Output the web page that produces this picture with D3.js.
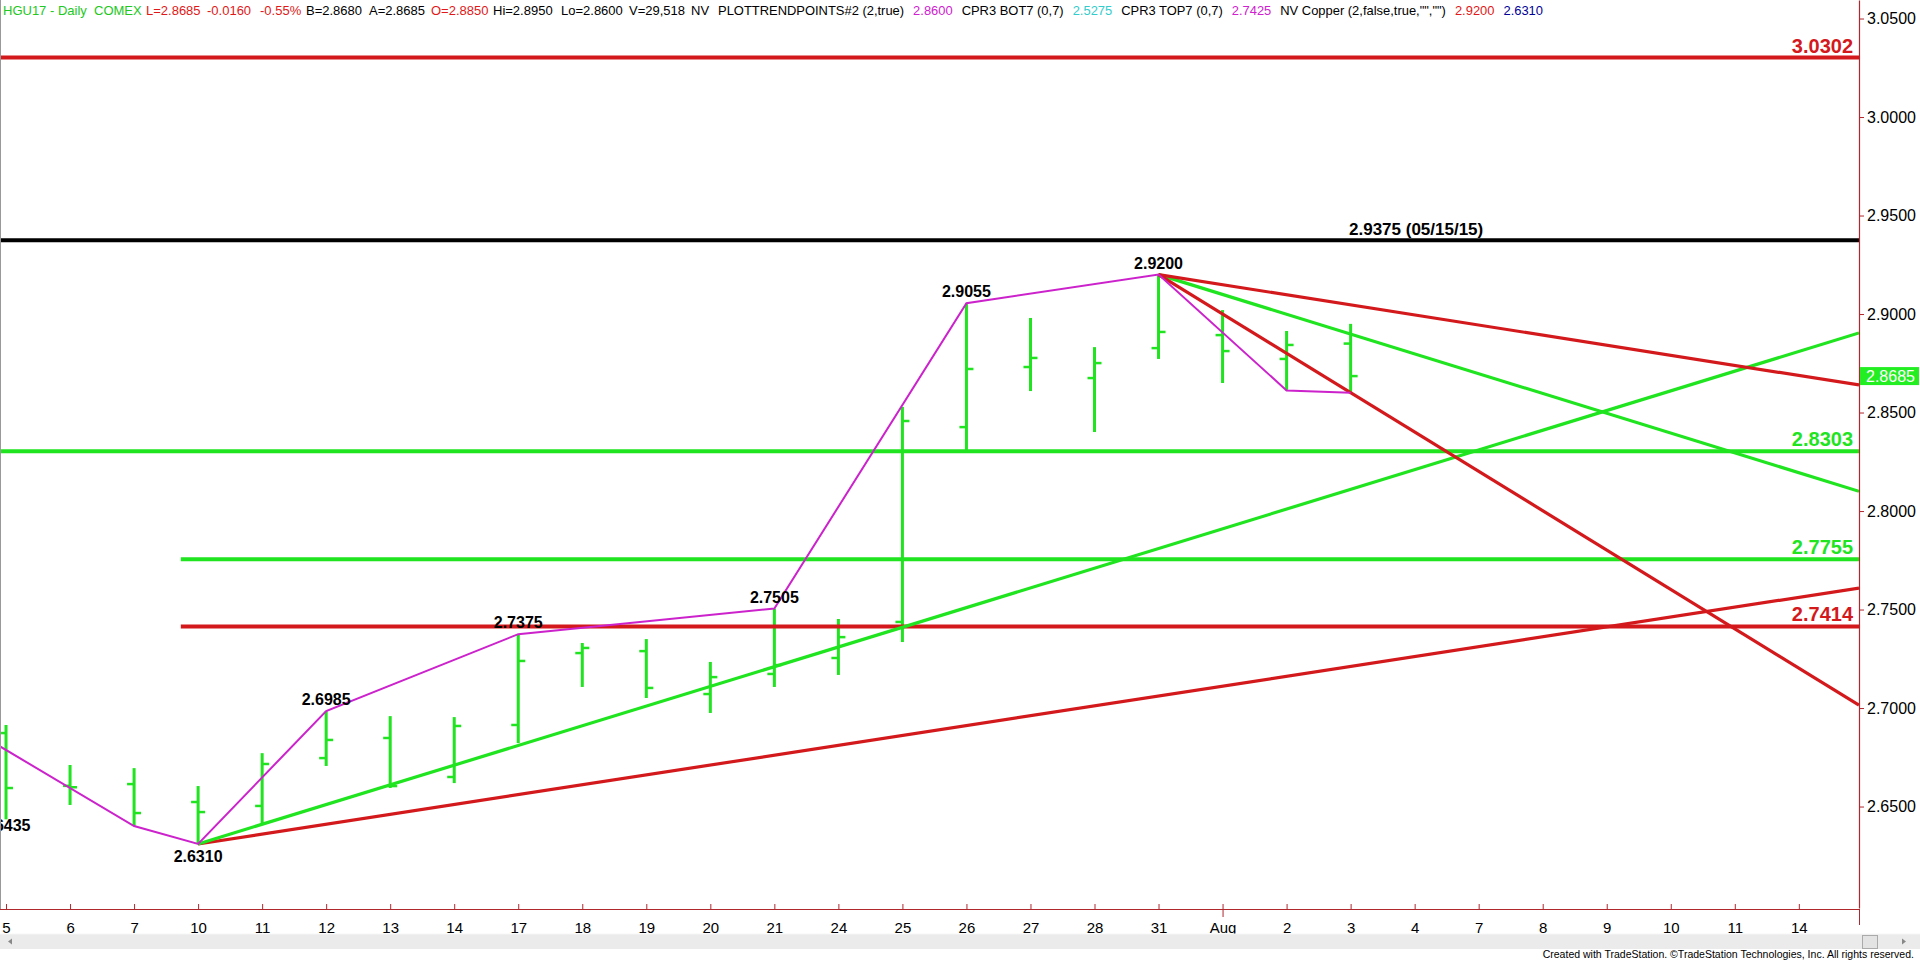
<!DOCTYPE html>
<html><head><meta charset="utf-8">
<script src="https://cdn.jsdelivr.net/npm/d3@7"></script>
<style>html,body{margin:0;padding:0;background:#fff;overflow:hidden}</style>
</head><body>
<svg id="c" width="1920" height="964" xmlns="http://www.w3.org/2000/svg"></svg>
<script>
// ---------------- DATA ----------------
const dates  = ["5","6","7","10","11","12","13","14","17","18","19","20","21","24","25","26","27","28","31","Aug","2","3","4","7","8","9","10","11","14"];
const opens  = [2.6873,2.6605,2.6614,2.6523,2.6503,2.6746,2.6848,2.6650,2.6914,2.7279,2.7289,2.7071,2.7173,2.7254,2.7437,2.8426,2.8731,2.8675,2.8827,2.8893,2.8772,2.8850];
const highs  = [2.6914,2.6711,2.6695,2.6604,2.6771,2.6985,2.6959,2.6954,2.7375,2.7330,2.7350,2.7234,2.7505,2.7452,2.8528,2.9055,2.8980,2.8832,2.9200,2.9020,2.8914,2.8950];
const lows   = [2.6435,2.6508,2.6401,2.6310,2.6406,2.6706,2.6594,2.6619,2.6822,2.7107,2.7051,2.6975,2.7107,2.7168,2.7335,2.8303,2.8609,2.8401,2.8772,2.8650,2.8612,2.8600];
const closes = [2.6594,2.6598,2.6467,2.6472,2.6716,2.6838,2.6604,2.6909,2.7239,2.7305,2.7102,2.7157,2.7218,2.7360,2.8457,2.8721,2.8777,2.8751,2.8909,2.8812,2.8843,2.8685];

const pivotIdx = [-1,2,3,5,8,12,15,18,20,21];
const pivotVal = [2.6980,2.6401,2.6310,2.6985,2.7375,2.7505,2.9055,2.9200,2.8612,2.8600];

const labelIdx  = [0,3,5,8,12,15,18];
const labelVal  = [2.6435,2.6310,2.6985,2.7375,2.7505,2.9055,2.9200];
const labelSide = ["low","below","above","above","above","above","above"];

const levelVal   = [3.0302,2.9375,2.8303,2.7755,2.7414];
const levelKind  = ["red","black","green","green","red"];
const levelFrom  = [null,null,null,2.73,2.73];
const levelText  = ["3.0302","2.9375 (05/15/15)","2.8303","2.7755","2.7414"];

const trendStartIdx = [3,3,18,18,18];
const trendStartVal = [2.6310,2.6310,2.9200,2.9200,2.9200];
const trendEndVal   = [2.7609,2.8904,2.8100,2.8640,2.7015];
const trendKind     = ["red","green","green","red","red"];

const yTicks = [2.65,2.70,2.75,2.80,2.85,2.90,2.95,3.00,3.05];
const lastPrice = 2.8685;

const headerText = ["HGU17 - Daily  COMEX","L=2.8685","-0.0160","-0.55%","B=2.8680","A=2.8685","O=2.8850","Hi=2.8950","Lo=2.8600","V=29,518","NV","PLOTTRENDPOINTS#2 (2,true)","2.8600","CPR3 BOT7 (0,7)","2.5275","CPR3 TOP7 (0,7)","2.7425","NV Copper (2,false,true,\"\",\"\")","2.9200","2.6310"];
const headerKind = ["green","red","red","red","black","black","red","black","black","black","black","black","magenta","black","cyan","black","magenta","black","red","navy"];
const footerText = "Created with TradeStation. \u00A9TradeStation Technologies, Inc. All rights reserved.";

// ---------------- STYLE / LAYOUT ----------------
const C = {green:"#1fe41f", red:"#d3191c", black:"#000", magenta:"#cc22cc", cyan:"#33cccc", navy:"#000099", axis:"#b0282c"};
const headerColor = {green:"#22c822", red:"#e01818", black:"#000", magenta:"#d020d0", cyan:"#33cccc", navy:"#000099"};
const headerFixedX = [3,146,207,260,306,369,431,493,561,629,691];
const headerEnd = 1543;

function hasFont(name){
  const c=document.createElement('canvas').getContext('2d');
  const s='abcdefghijklmnopqrstuvwxyz0123456789';
  c.font='40px monospace'; const a=c.measureText(s).width;
  c.font='40px "'+name+'", monospace'; const b=c.measureText(s).width;
  return Math.abs(a-b)>0.5;
}
const narrow = hasFont('Liberation Sans Narrow');
const NF = narrow ? '"Liberation Sans Narrow", Arial, sans-serif' : 'Arial, "Liberation Sans", sans-serif';
const headerSize = narrow ? 16 : 13;
const xLabSize = narrow ? 18 : 15;

const W=1920, H=964, plotR=1859, plotB=909;
const svg = d3.select("#c");
svg.append("rect").attr("width",W).attr("height",H).attr("fill","#fff");

const x = d3.scaleLinear().domain([-0.094, 28.94]).range([0, plotR]);
const y = d3.scaleLinear().domain([2.5985, 3.0594]).range([908, 0]);

svg.append("defs").append("clipPath").attr("id","plot")
  .append("rect").attr("x",1).attr("y",0).attr("width",plotR-1).attr("height",plotB);

const g = svg.append("g").attr("clip-path","url(#plot)");

// ---- bars ----
const bars = g.append("g");
opens.forEach((o,i)=>{
  const cx = x(i);
  bars.append("line").attr("x1",cx).attr("x2",cx).attr("y1",y(highs[i])).attr("y2",y(lows[i]))
    .attr("stroke",C.green).attr("stroke-width",3);
  bars.append("line").attr("x1",cx-7).attr("x2",cx).attr("y1",y(o)).attr("y2",y(o))
    .attr("stroke",C.green).attr("stroke-width",2.5);
  bars.append("line").attr("x1",cx).attr("x2",cx+7).attr("y1",y(closes[i])).attr("y2",y(closes[i]))
    .attr("stroke",C.green).attr("stroke-width",2.5);
});

// ---- levels ----
levelVal.forEach((v,i)=>{
  const x1 = levelFrom[i]==null ? 0 : x(levelFrom[i]);
  g.append("line").attr("x1",x1).attr("x2",plotR).attr("y1",y(v)).attr("y2",y(v))
    .attr("stroke",C[levelKind[i]]).attr("stroke-width",4);
});

// ---- trend lines ----
trendStartIdx.forEach((s,i)=>{
  g.append("line").attr("x1",x(s)).attr("y1",y(trendStartVal[i]))
    .attr("x2",x(x.domain()[1])).attr("y2",y(trendEndVal[i]))
    .attr("stroke",C[trendKind[i]]).attr("stroke-width",3.2);
});

// ---- pivot (magenta) line ----
g.append("path").datum(pivotIdx.map((d,i)=>[d,pivotVal[i]]))
  .attr("d", d3.line().x(d=>x(d[0])).y(d=>y(d[1])))
  .attr("fill","none").attr("stroke",C.magenta).attr("stroke-width",2);

// ---- pivot labels ----
labelIdx.forEach((d,i)=>{
  const side = labelSide[i];
  const yy = side==="above" ? y(labelVal[i])-6 : (side==="below" ? y(labelVal[i])+18 : y(labelVal[i])+12);
  g.append("text").attr("x",x(d)).attr("y",yy).attr("text-anchor","middle")
    .attr("font-family","Arial, 'Liberation Sans', sans-serif").attr("font-weight","bold")
    .attr("font-size",16).attr("fill","#000").text(d3.format(".4f")(labelVal[i]));
});

// ---- level labels ----
levelVal.forEach((v,i)=>{
  if(levelKind[i]==="black"){
    g.append("text").attr("x",1349).attr("y",y(v)-5)
      .attr("font-family","Arial, 'Liberation Sans', sans-serif").attr("font-weight","bold")
      .attr("font-size",17).attr("fill","#000").text(levelText[i]);
  } else {
    g.append("text").attr("x",1853).attr("y",y(v)-5).attr("text-anchor","end")
      .attr("font-family","Arial, 'Liberation Sans', sans-serif").attr("font-weight","bold")
      .attr("font-size",20).attr("fill",C[levelKind[i]]).text(levelText[i]);
  }
});

// ---- header ----
const hNodes = headerText.map((t,i)=> svg.append("text").attr("y",15)
    .attr("font-family",NF).attr("font-size",headerSize)
    .attr("fill",headerColor[headerKind[i]]).style("white-space","pre").text(t));
hNodes.forEach((n,i)=>{ if(i<headerFixedX.length) n.attr("x",headerFixedX[i]); });
{
  const nf = headerFixedX.length - 1;
  const startX = headerFixedX[nf] + hNodes[nf].node().getComputedTextLength();
  const rest = hNodes.slice(nf+1);
  const widths = rest.map(n=>n.node().getComputedTextLength());
  const total = d3.sum(widths);
  const baseGap = 9;
  const avail = headerEnd - startX - baseGap*rest.length;
  let k = 1, gap = baseGap;
  if(total > avail){ k = avail/total; }
  else { gap = (headerEnd - startX - total)/rest.length; }
  let hx = startX;
  rest.forEach((n,j)=>{
    hx += gap;
    n.attr("x",hx);
    if(k<1) n.attr("textLength",widths[j]*k).attr("lengthAdjust","spacingAndGlyphs");
    hx += widths[j]*k;
  });
}

// ---- borders ----
svg.append("line").attr("x1",0.5).attr("x2",0.5).attr("y1",0).attr("y2",plotB).attr("stroke","#999");

// ---- right axis ----
const ya = svg.append("g").attr("transform",`translate(${plotR},0)`)
  .call(d3.axisRight(y).tickValues(yTicks).tickFormat(d3.format(".4f")).tickSizeInner(5).tickSizeOuter(0).tickPadding(3));
ya.select(".domain").attr("stroke",C.axis).attr("stroke-width",1.2);
ya.selectAll(".tick line").attr("stroke",C.axis);
ya.selectAll(".tick text").attr("font-family","Arial, 'Liberation Sans', sans-serif").attr("font-size",16).attr("fill","#000");

// last price marker
svg.append("rect").attr("x",plotR+1).attr("y",y(lastPrice)-9).attr("width",W-plotR-2).attr("height",18).attr("fill","#22ee22");
svg.append("text").attr("x",plotR+7).attr("y",y(lastPrice)+6)
  .attr("font-family","Arial, 'Liberation Sans', sans-serif").attr("font-size",16).attr("fill","#fff").text(d3.format(".4f")(lastPrice));

// ---- bottom axis ----
const xa = svg.append("g").attr("transform",`translate(0,${plotB})`)
  .call(d3.axisBottom(x).tickValues(d3.range(dates.length)).tickFormat(i=>dates[i]).tickSizeInner(-5).tickSizeOuter(0));
xa.select(".domain").attr("stroke",C.axis).attr("stroke-width",1.2).attr("d",`M0,0.5H${plotR}`);
xa.selectAll(".tick line").attr("stroke",C.axis).attr("y2",d=>dates[d]==="Aug"?8:-5).attr("y1",d=>dates[d]==="Aug"?-5:0);
xa.selectAll(".tick text").attr("y",24).attr("dy",null)
  .attr("font-family",NF).attr("font-size",xLabSize).attr("fill","#000");
svg.append("line").attr("x1",plotR+0.5).attr("x2",plotR+0.5).attr("y1",plotB).attr("y2",plotB+16).attr("stroke",C.axis);

// ---- scrollbar ----
svg.append("rect").attr("x",0).attr("y",934).attr("width",W).attr("height",15).attr("fill","#ebebeb");
svg.append("line").attr("x1",0).attr("x2",W).attr("y1",934).attr("y2",934).attr("stroke","#f6f6f6");
svg.append("path").attr("d","M8,941.5 L12,938.5 L12,944.5 Z").attr("fill","#888");
svg.append("rect").attr("x",1862.5).attr("y",935.5).attr("width",15).attr("height",13).attr("fill","#e3e3e3").attr("stroke","#aaa");
svg.append("path").attr("d","M1902,938.5 L1906,941.5 L1902,944.5 Z").attr("fill","#888");

// ---- footer (font size fitted to the reference width) ----
const foot = svg.append("text").attr("x",1914).attr("y",958).attr("text-anchor","end")
  .attr("font-family",NF).attr("font-size",13).attr("fill","#000").text(footerText);
{
  const w = foot.node().getComputedTextLength();
  foot.attr("font-size", Math.min(14, 13*372/w).toFixed(2));
}
</script>
</body></html>
